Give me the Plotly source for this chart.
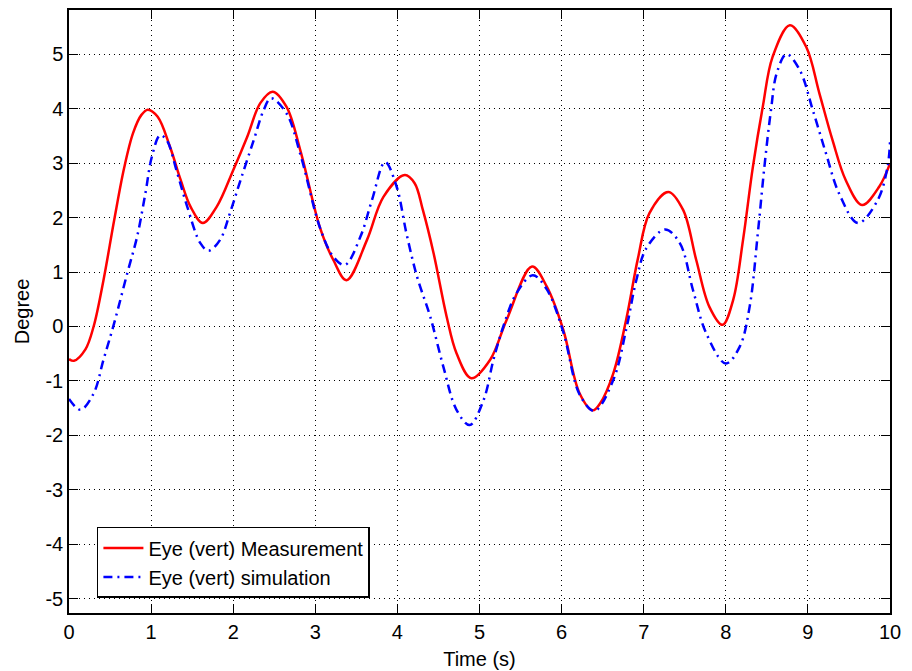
import plotly.graph_objects as go

# Measurement (red)
t_meas = [0.0, 0.06, 0.20, 0.30, 0.42, 0.55, 0.67, 0.78, 0.88, 0.96, 1.08, 1.23, 1.36, 1.48, 1.63,
          1.80, 2.00, 2.17, 2.33, 2.48, 2.65, 2.82, 3.06, 3.22, 3.38, 3.63, 3.83, 4.09, 4.21, 4.31,
          4.44, 4.60, 4.72, 4.90, 5.13, 5.33, 5.64, 5.82, 6.02, 6.22, 6.38, 6.47, 6.63, 6.79,
          6.93, 7.07, 7.30, 7.48, 7.64, 7.80, 7.96, 8.09, 8.21, 8.33, 8.45, 8.57, 8.78, 8.98,
          9.14, 9.30, 9.46, 9.66, 9.87, 10.0]
y_meas = [-0.60, -0.63, -0.42, 0.0, 0.85, 1.95, 2.90, 3.55, 3.88, 3.98, 3.85, 3.30, 2.69, 2.20, 1.90,
          2.20, 2.87, 3.48, 4.10, 4.31, 4.03, 3.22, 1.80, 1.22, 0.85, 1.59, 2.38, 2.78, 2.63, 2.14,
          1.35, 0.18, -0.49, -0.95, -0.61, 0.12, 1.10, 0.73, -0.06, -1.23, -1.54, -1.41, -0.86, 0.15,
          1.25, 2.08, 2.47, 2.14, 1.22, 0.36, 0.03, 0.49, 1.59, 2.93, 4.03, 4.95, 5.53, 5.13,
          4.28, 3.42, 2.69, 2.23, 2.57, 2.99]

# Simulation (blue)
t_sim = [0.0, 0.14, 0.30, 0.42, 0.55, 0.71, 0.83, 0.93, 1.01, 1.11, 1.19, 1.32, 1.44, 1.60,
         1.70, 1.84, 1.96, 2.09, 2.25, 2.37, 2.46, 2.65, 2.82, 3.06, 3.22, 3.36, 3.55, 3.69,
         3.85, 3.99, 4.11, 4.24, 4.40, 4.56, 4.72, 4.88, 5.05, 5.17, 5.29, 5.45, 5.65, 5.82,
         6.02, 6.22, 6.40, 6.63, 6.79, 6.91, 7.03, 7.26, 7.44, 7.60, 7.76, 8.00, 8.17, 8.29,
         8.39, 8.47, 8.55, 8.62, 8.74, 8.90, 9.06, 9.22, 9.38, 9.61, 9.85, 9.97, 10.0]
y_sim = [-1.33, -1.53, -1.23, -0.61, 0.06, 0.98, 1.65, 2.44, 3.12, 3.51, 3.42, 2.81, 2.20, 1.53,
         1.39, 1.59, 2.08, 2.69, 3.42, 3.97, 4.19, 3.91, 3.15, 1.80, 1.28, 1.13, 1.65, 2.32,
         3.02, 2.57, 1.71, 0.91, 0.18, -0.74, -1.53, -1.81, -1.35, -0.61, 0.0, 0.61, 0.94, 0.68,
         -0.10, -1.25, -1.55, -0.98, -0.03, 0.85, 1.43, 1.78, 1.53, 0.67, -0.12, -0.68, -0.37, 0.36,
         1.71, 2.93, 3.97, 4.65, 5.00, 4.71, 3.97, 3.18, 2.44, 1.90, 2.32, 2.93, 3.39]

x_ticks = list(range(0, 11))
y_ticks = list(range(-5, 6))

font_family = "Liberation Sans, Arial, sans-serif"
fs = 20

fig = go.Figure()
fig.add_trace(go.Scatter(
    x=t_meas, y=y_meas, mode="lines", name="Eye (vert) Measurement",
    line=dict(color="#ff0000", width=2.5, shape="spline", smoothing=1.0),
))
fig.add_trace(go.Scatter(
    x=t_sim, y=y_sim, mode="lines", name="Eye (vert) simulation",
    line=dict(color="#0000ff", width=2.5, dash="9px,5px,2px,5px", shape="spline", smoothing=1.0),
))

axis_common = dict(
    showline=True, linecolor="black", linewidth=1.5, mirror="ticks",
    ticks="inside", ticklen=9, tickwidth=1.2, tickcolor="black",
    showgrid=True, gridcolor="black", gridwidth=1, griddash="1px,4px",
    zeroline=False, tickfont=dict(size=fs, color="black", family=font_family),
    automargin=False,
)

fig.update_xaxes(
    range=[0, 10], tickvals=x_ticks, ticktext=[str(v) for v in x_ticks],
    title=dict(text="Time (s)", font=dict(size=fs, color="black", family=font_family), standoff=10),
    **axis_common,
)
fig.update_yaxes(
    range=[-5.26, 5.81], tickvals=y_ticks, ticktext=[str(v) for v in y_ticks],
    title=dict(text="Degree", font=dict(size=fs, color="black", family=font_family), standoff=10),
    **axis_common,
)

fig.update_layout(
    width=912, height=671,
    margin=dict(l=69, r=22, t=10, b=58),
    paper_bgcolor="white", plot_bgcolor="white",
    font=dict(family=font_family, size=fs, color="black"),
    showlegend=True,
    legend=dict(
        x=0.034, y=0.025, xanchor="left", yanchor="bottom",
        bgcolor="white", bordercolor="black", borderwidth=1.5,
        font=dict(size=fs, color="black", family=font_family),
        itemwidth=40, tracegroupgap=0,
    ),
)

fig.write_html("out.html")
